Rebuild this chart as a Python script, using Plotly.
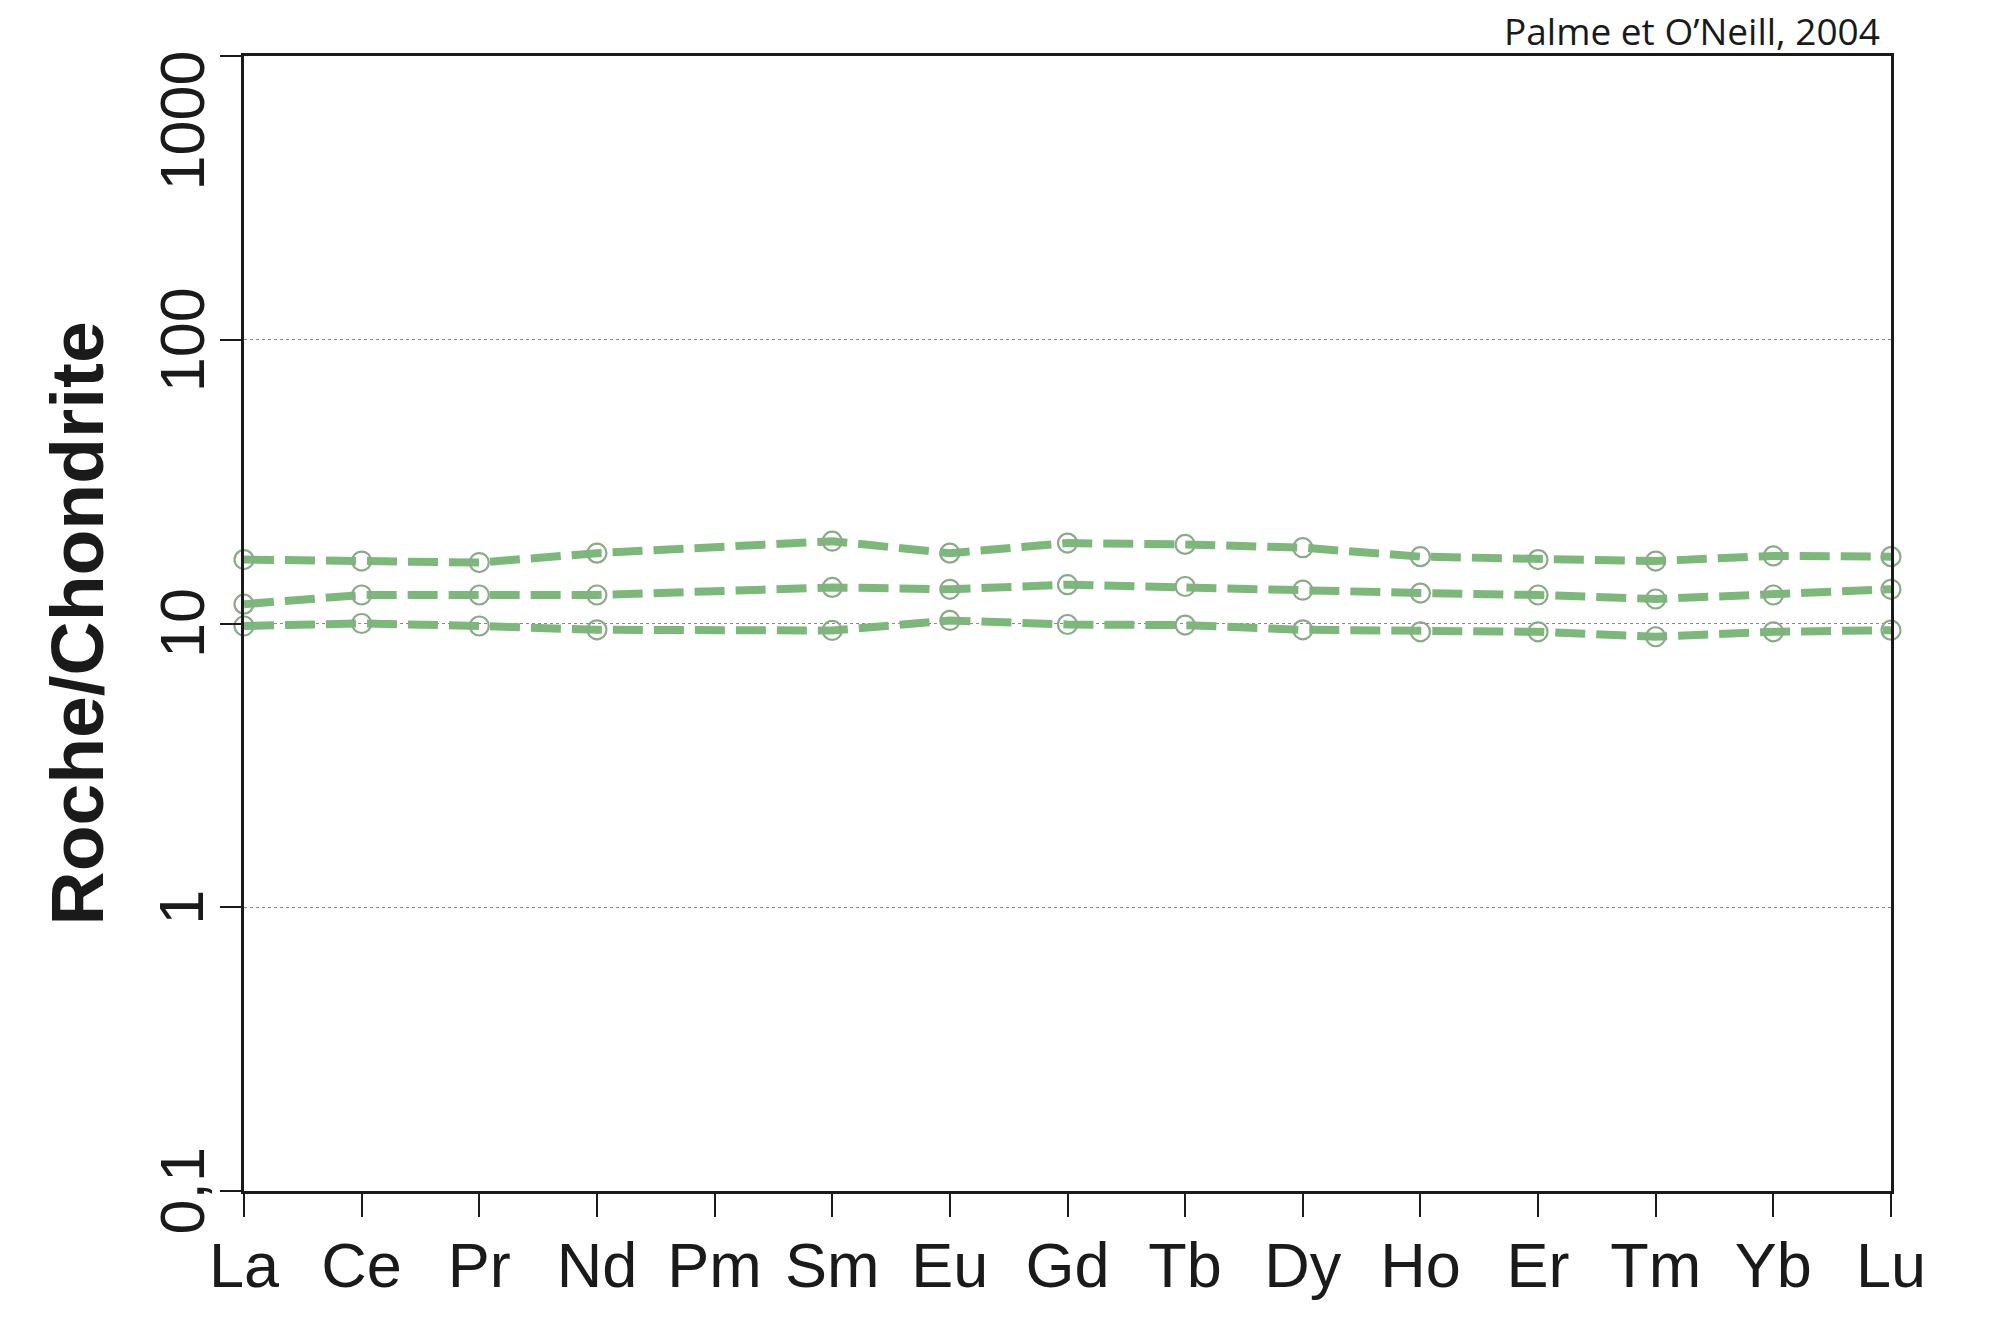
import math
import plotly.graph_objects as go

elements = ["La", "Ce", "Pr", "Nd", "Pm", "Sm", "Eu", "Gd", "Tb", "Dy", "Ho", "Er", "Tm", "Yb", "Lu"]
serie_haute = [16.8, 16.6, 16.4, 17.7, None, 19.5, 17.7, 19.2, 19.0, 18.5, 17.2, 16.8, 16.6, 17.3, 17.2]
serie_milieu = [11.7, 12.6, 12.6, 12.6, None, 13.4, 13.2, 13.7, 13.5, 13.1, 12.8, 12.6, 12.2, 12.6, 13.2]
serie_basse = [9.8, 10.0, 9.8, 9.5, None, 9.45, 10.25, 9.92, 9.87, 9.5, 9.35, 9.35, 8.98, 9.35, 9.47]
y_ticks = [0.1, 1, 10, 100, 1000]
y_ticktext = ["0,1", "1", "10", "100", "1000"]

W, H = 1999, 1344
ML, MR, MT, MB = 244, 108, 56, 153
PW = W - ML - MR

LINE_COLOR = "#7db87b"
MARKER_COLOR = "#8aab87"
AXIS_COLOR = "#1a1a1a"
FONT = "Liberation Sans, Arial, sans-serif"

fig = go.Figure()
for vals in (serie_haute, serie_milieu, serie_basse):
    fig.add_trace(go.Scatter(
        x=elements, y=vals, mode="lines+markers", connectgaps=True,
        cliponaxis=False, showlegend=False,
        line=dict(color=LINE_COLOR, width=8, dash="30px,11px"),
        marker=dict(symbol="circle-open", size=19, color=MARKER_COLOR,
                    line=dict(width=2.2, color=MARKER_COLOR)),
    ))

annotations = []
for v, t in zip(y_ticks, y_ticktext):
    shift = -65 if v == 1000 else 0
    annotations.append(dict(
        xref="paper", yref="y", x=(181.5 - ML) / PW, y=math.log10(v),
        text=t, showarrow=False, textangle=-90, xanchor="center", yanchor="middle",
        yshift=shift, font=dict(family=FONT, size=63, color=AXIS_COLOR),
    ))
annotations.append(dict(
    xref="paper", yref="paper", x=(76 - ML) / PW, y=0.5,
    text="Roche/Chondrite", showarrow=False, textangle=-90,
    xanchor="center", yanchor="middle",
    font=dict(family=FONT, size=75, color=AXIS_COLOR, weight="bold"),
))
annotations.append(dict(
    xref="paper", yref="paper", x=(1882 - ML) / PW, y=1.0,
    text="Palme et O\u2019Neill, 2004", showarrow=False,
    xanchor="right", yanchor="bottom", yshift=-2,
    font=dict(family="Open Sans, sans-serif", size=37, color=AXIS_COLOR),
))

fig.update_layout(
    width=W, height=H,
    margin=dict(l=ML, r=MR, t=MT, b=MB, pad=0),
    paper_bgcolor="white", plot_bgcolor="white",
    annotations=annotations,
    xaxis=dict(
        type="category", range=[0, len(elements) - 1],
        categoryorder="array", categoryarray=elements,
        showgrid=False, zeroline=False,
        showline=True, linewidth=2.5, linecolor=AXIS_COLOR, mirror=True,
        ticks="outside", ticklen=23, tickwidth=1.5, tickcolor=AXIS_COLOR,
        ticklabelstandoff=-5,
        tickfont=dict(family=FONT, size=63, color=AXIS_COLOR),
    ),
    yaxis=dict(
        type="log", range=[-1, 3],
        tickvals=y_ticks, showticklabels=False,
        showgrid=True, gridcolor="#8a8a8a", gridwidth=1.2, griddash="dot",
        zeroline=False,
        showline=True, linewidth=2.5, linecolor=AXIS_COLOR, mirror=True,
        ticks="outside", ticklen=21, tickwidth=2, tickcolor=AXIS_COLOR,
    ),
)

fig.write_html(
    "out.html",
    config={"displayModeBar": False},
    post_script="document.body.style.margin='0px';document.body.style.overflow='hidden';",
)
